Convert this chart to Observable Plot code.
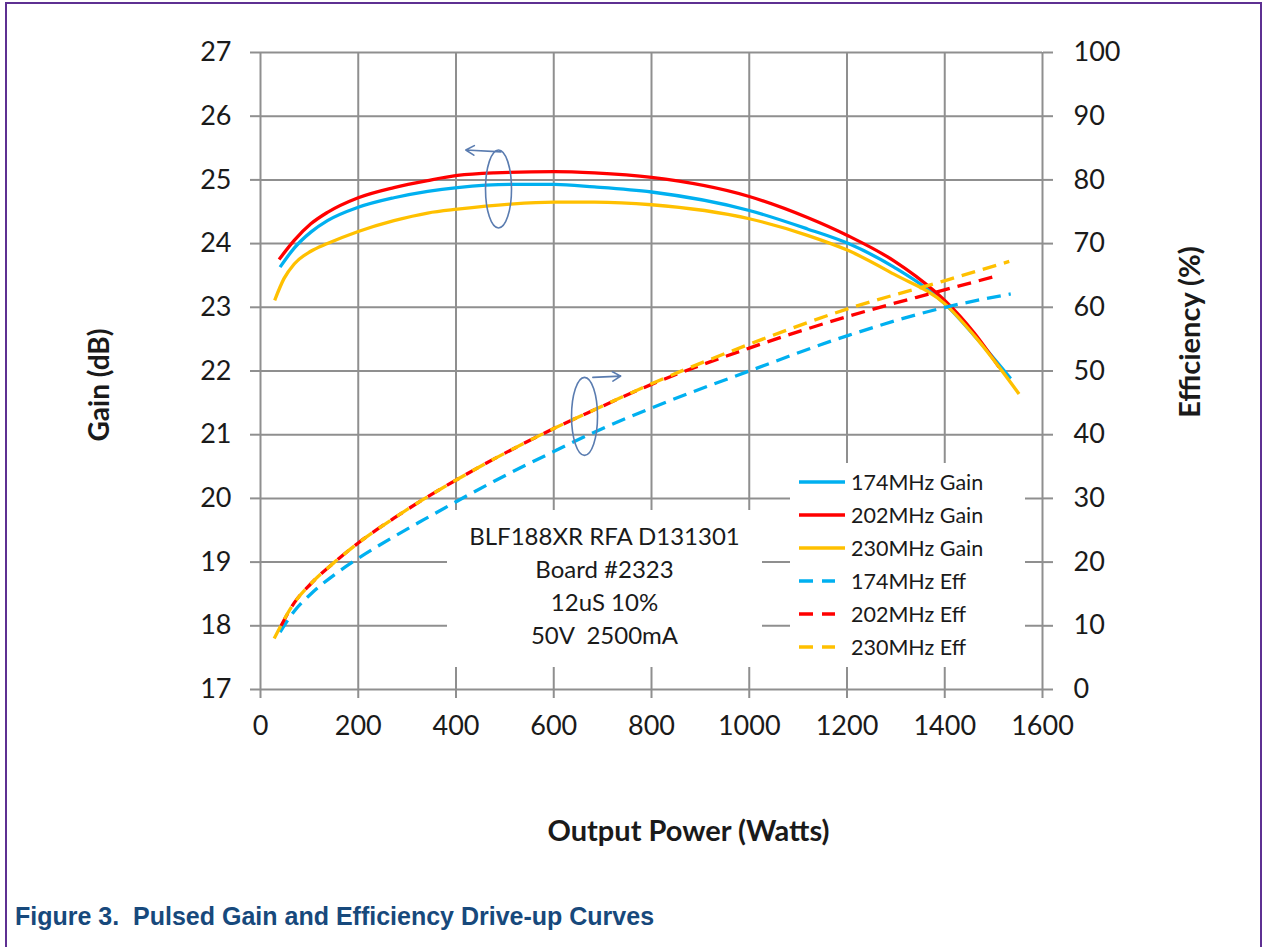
<!DOCTYPE html>
<html><head><meta charset="utf-8">
<script src="https://cdn.jsdelivr.net/npm/d3@7"></script>
<script src="https://cdn.jsdelivr.net/npm/@observablehq/plot@0.6"></script>
<style>
body{margin:0;background:#fff;overflow:hidden}
#wrap{position:relative;width:1263px;height:947px;overflow:hidden;font-family:Lato,sans-serif;background:#fff}
#frame{position:absolute;left:5px;top:2px;width:1257px;height:1000px;border:2px solid #5e3092;box-sizing:border-box;pointer-events:none}
#chart{position:absolute;left:0;top:0}
#note{position:absolute;left:447px;top:510px;width:315px;height:157px;background:#fff;color:#1a1a1a;font-size:24px;text-align:center;line-height:33px;box-sizing:border-box;padding-top:9px}
#legend{position:absolute;left:790px;top:463px;width:235px;height:204px;background:#fff;color:#1a1a1a;font-size:21.5px}
#legend .row{position:absolute;left:0;height:33px;display:flex;align-items:center}
#legend svg{margin-left:9px;margin-right:5px}
#caption{position:absolute;left:15px;top:902px;font-family:"Liberation Sans",Arial,sans-serif;font-weight:bold;font-size:25px;color:#17497c;white-space:pre}
</style></head>
<body>
<div id="wrap">
  <div id="chart"></div>
  <div id="note"></div>
  <div id="legend"></div>
  <div id="caption"></div>
  <div id="frame"></div>
</div>
<script>
// ---- data (Output power in W, gain in dB, efficiency in %) ----
const xTicks = [0,200,400,600,800,1000,1200,1400,1600];
const gainTicks = [17,18,19,20,21,22,23,24,25,26,27];
const effTicks = [0,10,20,30,40,50,60,70,80,90,100];

const pGain174 = [40,69,103,137,200,273,342,403,512,601,683,800,1000,1119,1203,1296,1401,1460,1535];
const gain174  = [23.63,23.93,24.18,24.36,24.57,24.72,24.82,24.88,24.93,24.93,24.89,24.81,24.52,24.23,24.0,23.63,23.05,22.56,21.88];

const pGain202 = [38,69,103,137,200,273,342,403,478,601,683,800,1000,1119,1203,1296,1378,1401,1460,1511];
const gain202  = [23.75,24.05,24.31,24.49,24.72,24.88,24.99,25.07,25.11,25.13,25.11,25.04,24.74,24.41,24.12,23.73,23.26,23.10,22.60,22.06];

const pGain230 = [29,48,69,103,137,200,273,342,403,512,601,683,800,1000,1119,1203,1296,1401,1460,1552];
const gain230  = [23.11,23.45,23.68,23.88,24.0,24.19,24.36,24.48,24.54,24.62,24.65,24.65,24.61,24.39,24.13,23.89,23.52,23.05,22.56,21.64];

const pEff174 = [40,69,103,158,200,273,335,403,478,601,683,800,1000,1203,1401,1535];
const eff174  = [9.0,12.3,15.0,18.4,20.6,24.0,26.7,29.6,32.7,37.4,40.4,44.2,50.0,55.6,60.0,62.1];

const pEff202 = [42,69,103,158,200,273,328,403,478,601,683,800,1000,1203,1378,1511];
const eff202  = [10.0,13.6,16.6,20.4,23.0,26.9,29.6,33.0,36.2,41.0,43.9,47.9,53.6,58.6,62.3,65.0];

const pEff230 = [28,69,103,158,200,273,328,403,478,601,683,800,1000,1203,1401,1532];
const eff230  = [8.0,13.6,16.6,20.4,23.0,26.9,29.6,33.0,36.2,41.0,43.9,48.0,54.2,59.8,64.2,67.2];

const seriesNames = ["174MHz Gain","202MHz Gain","230MHz Gain","174MHz Eff","202MHz Eff","230MHz Eff"];
const noteLines = ["BLF188XR RFA D131301","Board #2323","12uS 10%","50V  2500mA"];
// annotation markers (data coordinates: power W, gain dB)
const ovalCenters = [{w:488, g:24.85},{w:664, g:21.28}];
const arrowEnds = [{w1:492, g1:25.44, w2:420, g2:25.47},{w1:680, g1:21.90, w2:737, g2:21.92}];

// ---- styles ----
const colors = {"174":"#00b0f0","202":"#ff0000","230":"#ffc000"};
const gridColor = "#8f8f8f";
const annColor = "#5a7cb0";
const titleColor = "#1a1a1a";

// efficiency is drawn against the right axis: 0..100 % maps onto 17..27 dB
const effToGain = e => 17 + e/10;
const gainToEff = g => String(Math.round((g - 17) * 10));

const mk = (P, V, conv = v => v) => P.map((p, i) => ({w: p, v: conv(V[i])}));
const sGain174 = mk(pGain174, gain174), sGain202 = mk(pGain202, gain202), sGain230 = mk(pGain230, gain230);
const sEff174 = mk(pEff174, eff174, effToGain), sEff202 = mk(pEff202, eff202, effToGain), sEff230 = mk(pEff230, eff230, effToGain);

const lineOpts = (c, dashed) => ({x:"w", y:"v", stroke:c, strokeWidth:3.3, curve:"monotone-x",
  strokeDasharray: dashed ? "14,8" : null, strokeLinecap:"butt"});

const ovals = (index, scales) => {
  const g = d3.create("svg:g");
  for (const o of ovalCenters) {
    g.append("ellipse").attr("cx", scales.x(o.w)).attr("cy", scales.y(o.g))
      .attr("rx", 13).attr("ry", 39).attr("fill","none").attr("stroke", annColor).attr("stroke-width",1.6);
  }
  return g.node();
};

const chart = Plot.plot({
  width: 1263, height: 880,
  marginLeft: 260, marginRight: 221, marginTop: 52, marginBottom: 191,
  x: {domain: [0,1600]},
  y: {domain: [17,27]},
  style: {fontFamily: "Lato, sans-serif", background: "transparent", color: "#1a1a1a", overflow: "visible"},
  marks: [
    Plot.gridX(xTicks, {stroke: gridColor, strokeOpacity: 1, strokeWidth: 2}),
    Plot.gridY(gainTicks, {stroke: gridColor, strokeOpacity: 1, strokeWidth: 2}),
    Plot.axisY(gainTicks, {anchor: "left", tickSize: 10, tickPadding: 19, fontSize: 27, stroke: gridColor, strokeWidth: 2, label: null, tickFormat: d => String(d)}),
    Plot.axisY(gainTicks, {anchor: "right", tickSize: 10, tickPadding: 21, fontSize: 27, stroke: gridColor, strokeWidth: 2, label: null, tickFormat: gainToEff}),
    Plot.axisX(xTicks, {anchor: "bottom", tickSize: 9, tickPadding: 17, fontSize: 27, stroke: gridColor, strokeWidth: 2, label: null, tickFormat: d => String(d)}),
    Plot.line(sGain174, lineOpts(colors["174"], false)),
    Plot.line(sGain202, lineOpts(colors["202"], false)),
    Plot.line(sGain230, lineOpts(colors["230"], false)),
    Plot.line(sEff174, lineOpts(colors["174"], true)),
    Plot.line(sEff202, lineOpts(colors["202"], true)),
    Plot.line(sEff230, lineOpts(colors["230"], true)),
    ovals,
    Plot.arrow(arrowEnds, {x1:"w1", y1:"g1", x2:"w2", y2:"g2", stroke: annColor, strokeWidth: 1.6, headLength: 9, bend: 0}),
    Plot.text(["Gain (dB)"], {frameAnchor: "left", textAnchor: "middle", dx: -160, dy: 14, rotate: -90, fontSize: 28, fontWeight: "bold", fill: titleColor}),
    Plot.text(["Efficiency (%)"], {frameAnchor: "right", textAnchor: "middle", dx: 148, dy: -39, rotate: -90, fontSize: 29, fontWeight: "bold", fill: titleColor}),
    Plot.text(["Output Power (Watts)"], {frameAnchor: "bottom", textAnchor: "middle", dx: 37, dy: 151, fontSize: 29, fontWeight: "bold", fill: titleColor})
  ]
});
document.getElementById("chart").appendChild(chart);

// note box
document.getElementById("note").innerHTML = noteLines.map(t => `<div style="white-space:pre">${t}</div>`).join("");

// legend
const leg = document.getElementById("legend");
seriesNames.forEach((name, i) => {
  const key = name.slice(0,3);
  const dashed = name.includes("Eff");
  const row = document.createElement("div");
  row.className = "row";
  row.style.top = (2 + i*33) + "px";
  row.innerHTML = `<svg width="47" height="10"><line x1="0" y1="5" x2="${dashed?36:46}" y2="5" stroke="${colors[key]}" stroke-width="3.3" ${dashed?'stroke-dasharray="14,9"':''}/></svg><span>${name}</span>`;
  leg.appendChild(row);
});

document.getElementById("caption").textContent = "Figure 3.  Pulsed Gain and Efficiency Drive-up Curves";
</script>
</body></html>
